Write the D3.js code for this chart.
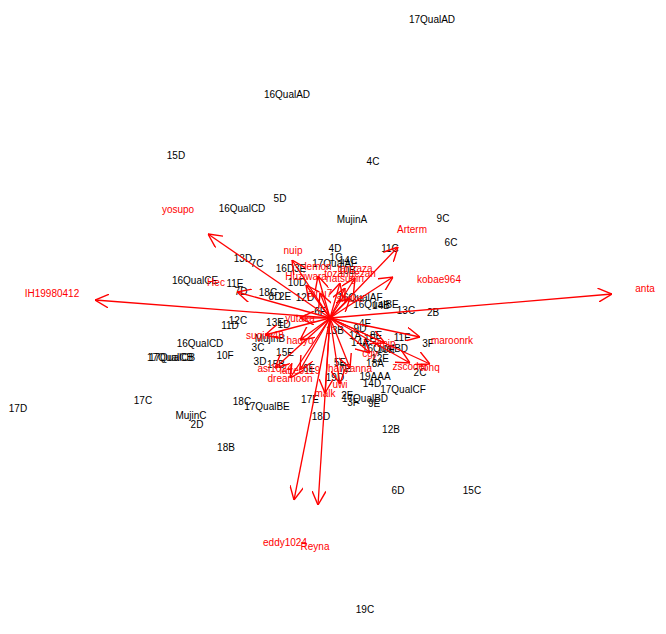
<!DOCTYPE html>
<html><head><meta charset="utf-8">
<script src="https://cdn.jsdelivr.net/npm/d3@7"></script>
<style>body{margin:0;background:#fff}</style>
</head><body>
<svg id="plot" width="666" height="634"></svg>
<script>
// Observation scores (PC1, PC2)
const pointLabels = ["17QualAD","16QualAD","15D","4C","5D","16QualCD","MujinA","9C","6C","11C","4D","1C","14C","17QualAE","13D","7C","16D","3E","10B","16QualCE","11E","7D","18C","8D","2E","10D","12D","16QualAF","16QualBE","14B","13C","2B","6F","13E","1D","12C","11D","16QualCD","3C","10F","17QualCB","17QualCB","15E","3D","15B","6E","11F","3F","2C","19D","19AAA","14D","17QualCF","17C","18C","17QualBE","17E","2F","17QualBD","9E","3F","18D","MujinC","2D","17D","18B","12B","6D","15C","19C","8E","10E","1A","14A","12E","5E","16QualBD","7E","9D","4E","1E","18A","13B","MujinB"];
const pointX = [1.02,-0.43,-1.54,0.43,-0.50,-0.88,0.22,1.13,1.21,0.60,0.05,0.06,0.18,0.05,-0.87,-0.73,-0.45,-0.30,0.17,-1.35,-0.95,-0.89,-0.62,-0.55,-0.45,-0.33,-0.25,0.30,0.46,0.51,0.76,1.03,-0.10,-0.55,-0.46,-0.92,-1.00,-1.30,-0.72,-1.05,-1.58,-1.60,-0.45,-0.70,-0.54,-0.21,0.72,0.98,0.90,0.05,0.45,0.42,0.73,-1.87,-0.88,-0.63,-0.20,0.17,0.35,0.44,0.23,-0.09,-1.39,-1.33,-3.12,-1.04,0.61,0.68,1.42,0.35,0.46,0.56,0.25,0.30,0.50,0.10,0.55,0.15,0.30,0.35,0.40,0.45,0.05,-0.60];
const pointY = [2.99,2.24,1.63,1.57,1.20,1.10,0.99,1.00,0.76,0.70,0.70,0.61,0.58,0.55,0.60,0.55,0.50,0.50,0.48,0.38,0.35,0.27,0.26,0.22,0.22,0.36,0.21,0.21,0.14,0.13,0.08,0.06,0.07,-0.04,-0.06,-0.02,-0.07,-0.25,-0.29,-0.37,-0.39,-0.39,-0.34,-0.43,-0.46,-0.50,-0.19,-0.25,-0.54,-0.59,-0.58,-0.65,-0.71,-0.82,-0.83,-0.88,-0.81,-0.77,-0.80,-0.85,-0.84,-0.98,-0.97,-1.06,-0.90,-1.29,-1.11,-1.72,-1.72,-2.91,-0.17,-0.31,-0.17,-0.24,-0.40,-0.44,-0.30,-0.50,-0.10,-0.05,-0.20,-0.45,-0.12,-0.20];

// Variable loadings (arrow tips)
const varLabels = ["anta","IH19980412","yosupo","Arterm","nuip","kobae964","maroonrk","eddy1024","Reyna","Hec","lemon","Huziwara","natsugiri","tanzaza","sugim48","zscoder","tonq","hadyo","latte0119","asi1024","dreamoon","yutaka","malk","hanyanna","uwi","snuke","ainu7","kmjp","cgy","tozangezan"];
const varX = [2.82,-2.35,-1.22,0.68,-0.38,0.63,0.90,-0.36,-0.12,-0.93,-0.12,-0.24,0.15,0.25,-0.65,0.80,1.00,-0.30,-0.30,-0.55,-0.40,-0.30,-0.05,0.20,0.10,0.20,-0.10,0.55,0.40,0.10];
const varY = [0.24,0.18,0.84,0.71,0.58,0.41,-0.19,-1.82,-1.87,0.26,0.42,0.33,0.30,0.40,-0.17,-0.45,-0.46,-0.22,-0.52,-0.50,-0.60,0.00,-0.75,-0.50,-0.66,0.20,0.25,-0.25,-0.35,0.35];
const varLX = [3.15,-2.78,-1.52,0.82,-0.37,1.09,1.22,-0.45,-0.15,-1.14,-0.12,-0.24,0.15,0.25,-0.65,0.80,1.00,-0.30,-0.30,-0.55,-0.40,-0.30,-0.05,0.20,0.10,0.20,-0.10,0.55,0.40,0.20];
const varLY = [0.30,0.25,1.09,0.89,0.68,0.39,-0.22,-2.24,-2.28,0.36,0.52,0.42,0.40,0.50,-0.17,-0.48,-0.49,-0.22,-0.52,-0.50,-0.60,0.00,-0.75,-0.50,-0.66,0.20,0.25,-0.25,-0.35,0.45];

const width = 666, height = 634;
const x = d3.scaleLinear().domain([-3.3, 3.36]).range([0, width]);
const y = d3.scaleLinear().domain([3.18, -3.16]).range([0, height]);

const svg = d3.select("#plot");
svg.append("defs").append("marker")
  .attr("id", "head").attr("viewBox", "0 -6 12 12")
  .attr("refX", 12).attr("refY", 0)
  .attr("markerWidth", 14).attr("markerHeight", 14)
  .attr("markerUnits", "userSpaceOnUse")
  .attr("orient", "auto")
  .append("path").attr("d", "M0,-6L12,0L0,6")
  .attr("fill", "none").attr("stroke", "red").attr("stroke-width", 1.2);

// points (labels)
svg.selectAll("text.pt").data(pointLabels).enter().append("text")
  .attr("class", "pt")
  .attr("x", (d, i) => x(pointX[i]))
  .attr("y", (d, i) => y(pointY[i]))
  .attr("dy", "0.35em")
  .attr("text-anchor", "middle")
  .style("font-family", "Liberation Sans, Arial")
  .style("font-size", "10px")
  .text(d => d);

// arrows
svg.selectAll("line.v").data(varLabels).enter().append("line")
  .attr("x1", x(0)).attr("y1", y(0))
  .attr("x2", (d, i) => x(varX[i])).attr("y2", (d, i) => y(varY[i]))
  .attr("stroke", "red").attr("stroke-width", 1.3)
  .attr("marker-end", "url(#head)");

svg.selectAll("text.v").data(varLabels).enter().append("text")
  .attr("x", (d, i) => x(varLX[i]))
  .attr("y", (d, i) => y(varLY[i]))
  .attr("dy", "0.35em")
  .attr("text-anchor", "middle")
  .style("font-family", "Liberation Sans, Arial")
  .style("font-size", "10px")
  .style("fill", "red")
  .text(d => d);
</script>
</body></html>
